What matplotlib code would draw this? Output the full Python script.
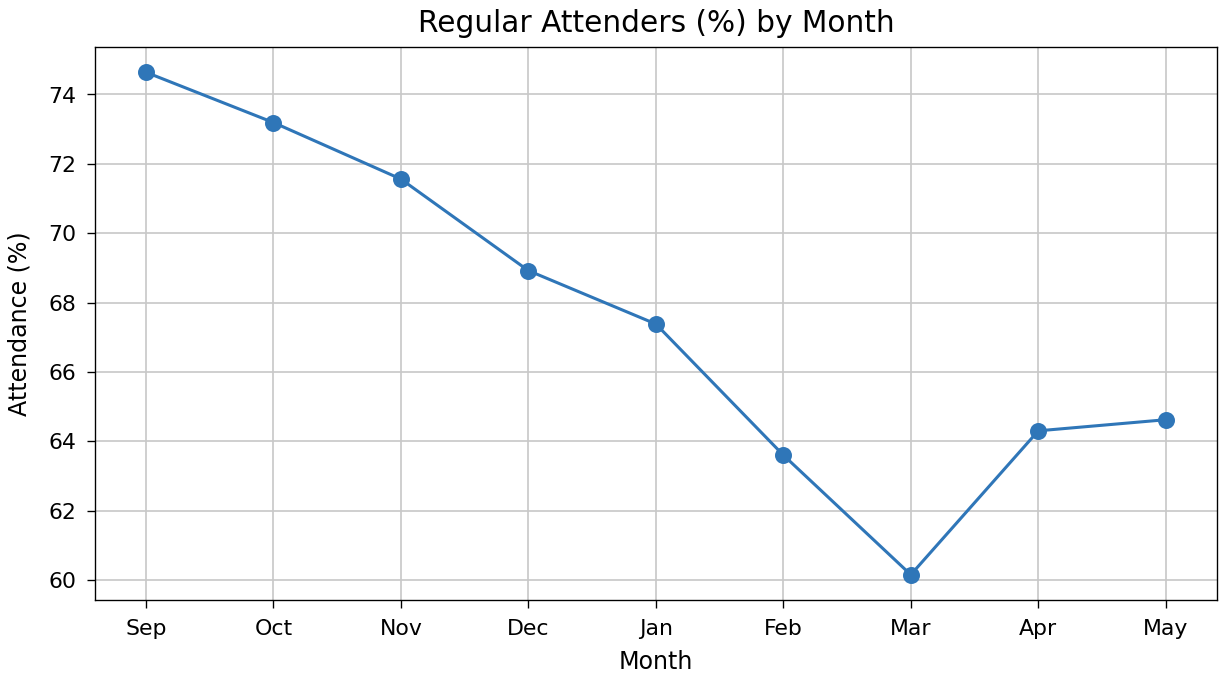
import matplotlib
matplotlib.use("Agg")
import matplotlib.pyplot as plt

# Monthly share of regular attenders
months = ['Sep', 'Oct', 'Nov', 'Dec', 'Jan', 'Feb', 'Mar', 'Apr', 'May']
attendance = [74.64, 73.19, 71.56, 68.92, 67.38, 63.60, 60.15, 64.30, 64.62]

fig = plt.figure(figsize=(10, 5.516), dpi=122.2)
ax = fig.add_axes([0.0777, 0.110, 0.918, 0.820])

ax.plot(months, attendance, marker='o', markersize=9, color='#2f76b8', linewidth=1.8)

ax.set_title("Regular Attenders (%) by Month", fontsize=17.5, pad=9)
ax.set_xlabel("Month", fontsize=14, labelpad=7)
ax.set_ylabel("Attendance (%)", fontsize=14, labelpad=10)
ax.tick_params(labelsize=13, length=5, pad=6)
ax.grid(True, color='#c8c8c8', linewidth=1)

fig.savefig('out.png', dpi=122.2)
